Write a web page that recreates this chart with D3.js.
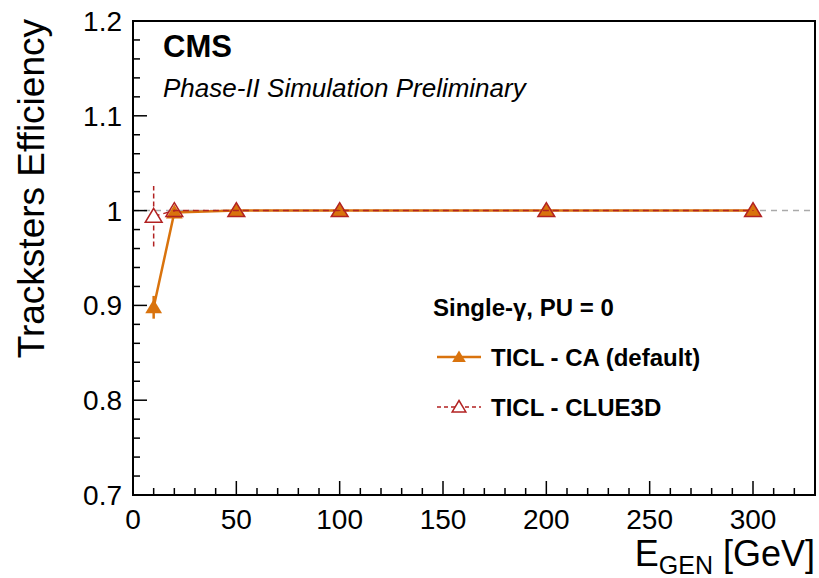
<!DOCTYPE html>
<html>
<head>
<meta charset="utf-8">
<script src="https://cdn.jsdelivr.net/npm/d3@7"></script>
<style>
  body { margin: 0; background: #fff; }
  text { font-family: "Liberation Sans", Arial, sans-serif; }
</style>
</head>
<body>
<svg id="chart"></svg>
<script>
var energies   = [10, 20, 50, 100, 200, 300];
var effCA      = [0.898, 0.998, 1.0, 1.0, 1.0, 1.0];
var errCA      = [0.012, 0.002, 0.0005, 0.0005, 0.0005, 0.0005];
var effCLUE    = [0.994, 1.0, 1.0, 1.0, 1.0, 1.0];
var errCLUE    = [0.032, 0.001, 0.0005, 0.0005, 0.0005, 0.0005];
var xTicks     = [0, 50, 100, 150, 200, 250, 300];
var yTicks     = [0.7, 0.8, 0.9, 1.0, 1.1, 1.2];
var legendText = ["TICL - CA (default)", "TICL - CLUE3D"];

var W = 819, H = 578;
var pLeft = 133, pRight = 815, pTop = 21, pBottom = 495;
var colCA = "#d9730d", colCLUE = "#b22222";

var svg = d3.select("#chart").attr("width", W).attr("height", H);

var x = d3.scaleLinear().domain([0, 330]).range([pLeft, pRight]);
var y = d3.scaleLinear().domain([0.7, 1.2]).range([pBottom, pTop]);

// reference line at 1
svg.append("line")
  .attr("x1", x(0)).attr("x2", x(330))
  .attr("y1", y(1)).attr("y2", y(1))
  .attr("stroke", "#aaa").attr("stroke-width", 1.5)
  .attr("stroke-dasharray", "6,5");

// ticks
var xMinor = d3.range(0, 331, 10);
var yMinor = d3.range(0, 26).map(function(i){ return 0.7 + i*0.02; });
svg.selectAll(".xt").data(xMinor).enter().append("line")
  .attr("x1", function(d){ return x(d); }).attr("x2", function(d){ return x(d); })
  .attr("y1", pBottom)
  .attr("y2", function(d){ return d % 50 === 0 ? pBottom - 14 : pBottom - 7; })
  .attr("stroke", "#000").attr("stroke-width", 1.5);
svg.selectAll(".yt").data(yMinor).enter().append("line")
  .attr("y1", function(d){ return y(d); }).attr("y2", function(d){ return y(d); })
  .attr("x1", pLeft)
  .attr("x2", function(d, i){ return i % 5 === 0 ? pLeft + 14 : pLeft + 7; })
  .attr("stroke", "#000").attr("stroke-width", 1.5);

// tick labels
svg.selectAll(".xl").data(xTicks).enter().append("text")
  .attr("x", function(d){ return x(d); }).attr("y", 529)
  .attr("text-anchor", "middle").attr("font-size", 28)
  .text(function(d){ return d; });
svg.selectAll(".yl").data(yTicks).enter().append("text")
  .attr("x", 122).attr("y", function(d){ return y(d) + 10; })
  .attr("text-anchor", "end").attr("font-size", 28)
  .text(function(d){ return d === 1 ? "1" : d3.format(".1f")(d); });

// frame
svg.append("rect")
  .attr("x", pLeft).attr("y", pTop)
  .attr("width", pRight - pLeft).attr("height", pBottom - pTop)
  .attr("fill", "none").attr("stroke", "#000").attr("stroke-width", 2);

// axis titles
svg.append("text")
  .attr("transform", "translate(44,19) rotate(-90)")
  .attr("text-anchor", "end").attr("font-size", 37)
  .text("Tracksters Efficiency");
var xt = svg.append("text")
  .attr("x", pRight).attr("y", 566)
  .attr("text-anchor", "end").attr("font-size", 36);
xt.append("tspan").text("E");
xt.append("tspan").attr("font-size", 25).attr("dy", 8).text("GEN");
xt.append("tspan").attr("dy", -8).text(" [GeV]");

// CMS labels
svg.append("text").attr("x", 163).attr("y", 57)
  .attr("font-size", 31).attr("font-weight", "bold").text("CMS");
svg.append("text").attr("x", 163).attr("y", 97)
  .attr("font-size", 26).attr("font-style", "italic")
  .text("Phase-II Simulation Preliminary");

function tri(cx, cy, s) {
  return "M" + cx + "," + (cy - s) + "L" + (cx + s*1.05) + "," + (cy + s*0.75) +
         "L" + (cx - s*1.05) + "," + (cy + s*0.75) + "Z";
}

var dataCA = energies.map(function(e, i){ return {x: e, y: effCA[i], err: errCA[i]}; });
var dataCLUE = energies.map(function(e, i){ return {x: e, y: effCLUE[i], err: errCLUE[i]}; });
var line = d3.line().x(function(d){ return x(d.x); }).y(function(d){ return y(d.y); });

// CA series
svg.append("path").datum(dataCA).attr("d", line)
  .attr("fill", "none").attr("stroke", colCA).attr("stroke-width", 2.5);
svg.selectAll(".eca").data(dataCA).enter().append("line")
  .attr("x1", function(d){ return x(d.x); }).attr("x2", function(d){ return x(d.x); })
  .attr("y1", function(d){ return y(d.y - d.err); }).attr("y2", function(d){ return y(d.y + d.err); })
  .attr("stroke", colCA).attr("stroke-width", 2.5);
svg.selectAll(".mca").data(dataCA).enter().append("path")
  .attr("d", function(d){ return tri(x(d.x), y(d.y), 8); })
  .attr("fill", colCA);

// CLUE3D series
svg.append("path").datum(dataCLUE).attr("d", line)
  .attr("fill", "none").attr("stroke", colCLUE).attr("stroke-width", 1.5)
  .attr("stroke-dasharray", "6,4");
svg.selectAll(".ecl").data(dataCLUE).enter().append("line")
  .attr("x1", function(d){ return x(d.x); }).attr("x2", function(d){ return x(d.x); })
  .attr("y1", function(d){ return y(d.y - d.err); }).attr("y2", function(d){ return y(d.y + d.err); })
  .attr("stroke", colCLUE).attr("stroke-width", 1.5)
  .attr("stroke-dasharray", "5,3");
svg.selectAll(".mcl").data(dataCLUE).enter().append("path")
  .attr("d", function(d){ return tri(x(d.x), y(d.y), 8); })
  .attr("fill", function(d, i){ return i === 0 ? "#fff" : "none"; })
  .attr("stroke", colCLUE).attr("stroke-width", 1.5);

// legend
svg.append("text").attr("x", 433).attr("y", 316)
  .attr("font-size", 24).attr("font-weight", "bold").text("Single-γ, PU = 0");
var lg = [{c: colCA, dash: null, w: 2.5, fill: colCA, stroke: "none"},
          {c: colCLUE, dash: "4,3", w: 1.5, fill: "#fff", stroke: colCLUE}];
lg.forEach(function(d, i){
  var ly = 357 + i * 50;
  svg.append("line").attr("x1", 437).attr("x2", 481).attr("y1", ly).attr("y2", ly)
    .attr("stroke", d.c).attr("stroke-width", d.w).attr("stroke-dasharray", d.dash);
  svg.append("path").attr("d", tri(459, ly, 6.5))
    .attr("fill", d.fill).attr("stroke", d.stroke).attr("stroke-width", 1.5);
  svg.append("text").attr("x", 491).attr("y", ly + 9)
    .attr("font-size", 24).attr("font-weight", "bold").text(legendText[i]);
});
</script>
</body>
</html>
